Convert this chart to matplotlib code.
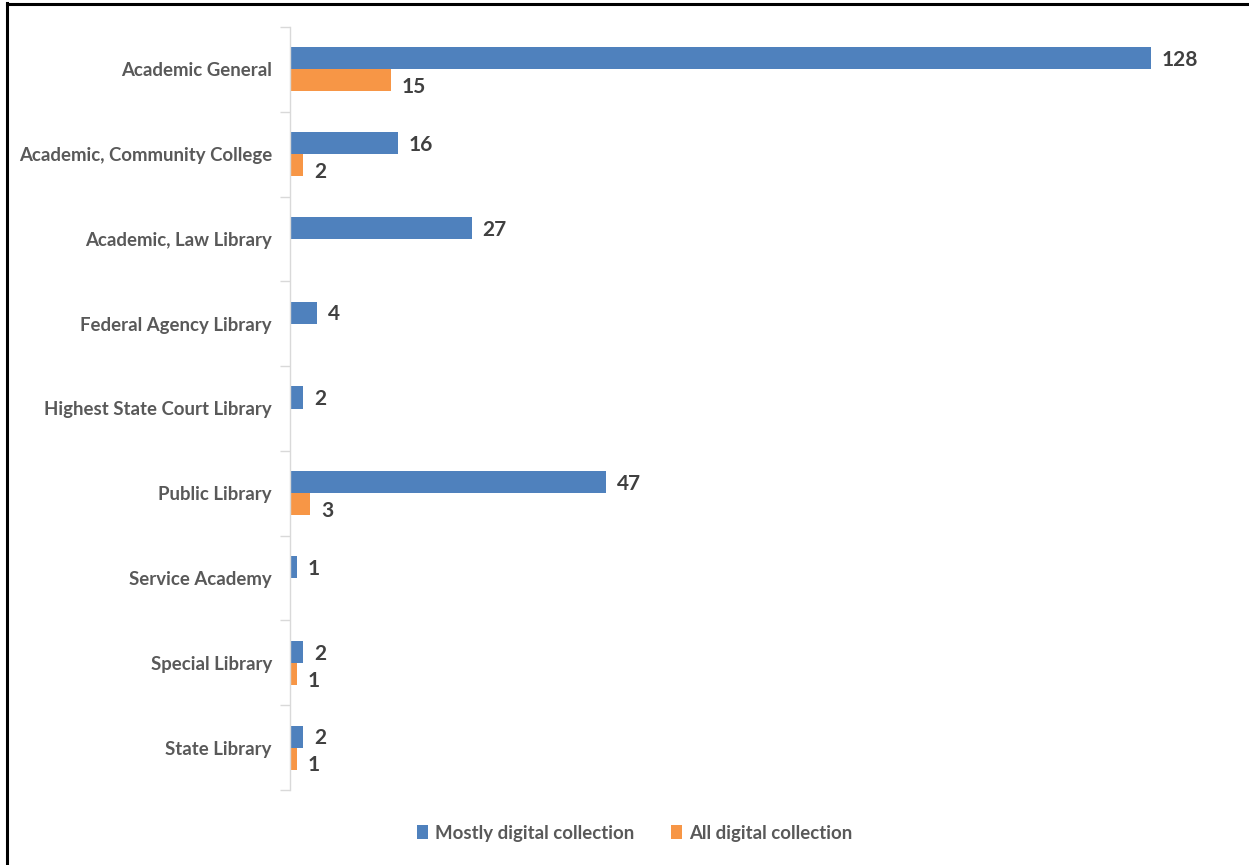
import matplotlib.pyplot as plt
from matplotlib.lines import Line2D
import numpy as np

categories = [
    "Academic General",
    "Academic, Community College",
    "Academic, Law Library",
    "Federal Agency Library",
    "Highest State Court Library",
    "Public Library",
    "Service Academy",
    "Special Library",
    "State Library",
]
mostly_digital = [128, 16, 27, 4, 2, 47, 1, 2, 2]
all_digital = [15, 2, None, None, None, 3, None, 1, 1]

blue = "#4F81BD"
orange = "#F79646"
label_font = ["Lato", "DejaVu Sans"]

fig = plt.figure(figsize=(12.49, 8.65), dpi=100)
ax = fig.add_axes([290 / 1249, 1 - 790 / 865, (1230 - 290) / 1249, (790 - 27) / 865])

y = np.arange(len(categories))
h = 0.26
mostly_vals = np.array(mostly_digital, dtype=float)
all_vals = np.array([v if v is not None else 0 for v in all_digital], dtype=float)

ax.barh(y - h / 2, mostly_vals, height=h, color=blue, label="Mostly digital collection")
ax.barh(y + h / 2, all_vals, height=h, color=orange, label="All digital collection")

for yi, v in zip(y, mostly_digital):
    ax.text(v + 1.6, yi - h / 2 + 0.02, str(v), va="center", ha="left", fontsize=15,
            fontweight="bold", color="#404040", family=label_font)
for yi, v in zip(y, all_digital):
    if v is not None:
        ax.text(v + 1.6, yi + h / 2 + 0.08, str(v), va="center", ha="left", fontsize=15,
                fontweight="bold", color="#404040", family=label_font)

ax.set_xlim(0, (1230 - 290) / (861 / 128))
ax.set_ylim(len(categories) - 0.5, -0.5)
ax.set_xticks([])
ax.set_yticks(y)
ax.set_yticklabels(categories, fontsize=13.4, fontweight="bold", color="#595959",
                   family=label_font)
ax.set_yticks(np.arange(-0.5, len(categories)), minor=True)
ax.tick_params(axis="y", which="major", length=0, pad=13)
ax.tick_params(axis="y", which="minor", length=7, color="#D9D9D9", width=1)

for side in ["top", "right", "bottom"]:
    ax.spines[side].set_visible(False)
ax.spines["left"].set_color("#D9D9D9")
ax.spines["left"].set_linewidth(1)

leg = fig.legend(loc="center", bbox_to_anchor=(0.508, 1 - 833 / 865), ncol=2, frameon=False,
                 prop={"family": label_font, "size": 13.4, "weight": "bold"},
                 handlelength=0.6, handleheight=0.8, handletextpad=0.35, columnspacing=2.0)
for t in leg.get_texts():
    t.set_color("#595959")

# frame lines on the left and top edges
fig.add_artist(Line2D([7 / 1249, 7 / 1249], [0, 1 - 3 / 865], color="black", lw=2.2,
                      transform=fig.transFigure))
fig.add_artist(Line2D([7 / 1249, 1], [1 - 3.5 / 865, 1 - 3.5 / 865], color="black", lw=2.2,
                      transform=fig.transFigure))

fig.savefig("out.png", dpi=100)
